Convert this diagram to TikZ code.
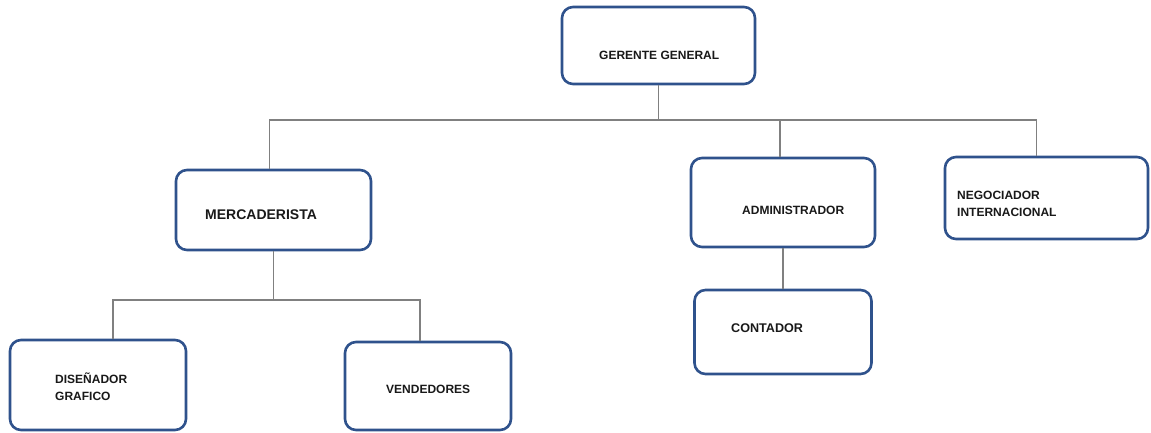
\documentclass[tikz,border=0pt]{standalone}
\usepackage{fontspec}
\setmainfont{Liberation Sans}
\usetikzlibrary{positioning}
\definecolor{boxblue}{RGB}{47,82,140}
\definecolor{linegray}{RGB}{128,128,128}
\tikzset{puesto/.style={draw=boxblue,line width=2.6pt,rounded corners=11pt,fill=white},
	rotulo/.style={font=\fontsize{12}{17}\selectfont\bfseries,text=black!90,align=left,inner sep=0pt,anchor=west},
	rama/.style={draw=linegray,line width=1.6pt}}
\begin{document}
\begin{tikzpicture}[x=1pt,y=-1pt]
\useasboundingbox (0,0) rectangle (1151,433);
% cajas
\node [puesto,minimum width=193pt,minimum height=77pt] (gg) at (658.5,45.5) {};
\node [puesto,minimum width=195pt,minimum height=80pt] (merc) at (273.5,210) {};
\node [puesto,minimum width=184pt,minimum height=89pt] (adm) at (783,202.5) {};
\node [puesto,minimum width=203pt,minimum height=82pt] (neg) at (1046.5,198) {};
\node [puesto,minimum width=177pt,minimum height=84pt] (cont) at (783,332) {};
\node [puesto,minimum width=176pt,minimum height=90pt] (dis) at (98,385) {};
\node [puesto,minimum width=166pt,minimum height=88pt] (vend) at (428,386) {};
% textos
\node [rotulo] (gg-t) at (599,55) {GERENTE GENERAL};
\node [rotulo,font=\fontsize{14}{17}\selectfont\bfseries] (merc-t) at (205,215) {MERCADERISTA};
\node [rotulo] (adm-t) at (742,210) {ADMINISTRADOR};
\node [rotulo] (neg-t) at (957,203.5) {NEGOCIADOR\\INTERNACIONAL};
\node [rotulo,font=\fontsize{12.6}{17}\selectfont\bfseries] (cont-t) at (731,328) {CONTADOR};
\node [rotulo] (dis-t) at (55,386.5) {DISEÑADOR\\GRAFICO};
\node [rotulo] (vend-t) at (386,389) {VENDEDORES};
% puntos de union
\coordinate (j0) at (658.5,120);
\coordinate (j1) at (273.5,300);
\draw [rama] (gg.south) -- (j0);
\draw [rama] ([xshift=-4pt]merc.north) |- (j0) -| ([xshift=-10pt]neg.north);
\draw [rama] (j0) -| ([xshift=-3pt]adm.north);
\draw [rama] (merc.south) -- (j1);
\draw [rama] ([xshift=15pt]dis.north) |- (j1) -| ([xshift=-8pt]vend.north);
\draw [rama] (adm.south) -- (cont.north);
\end{tikzpicture}
\end{document}
